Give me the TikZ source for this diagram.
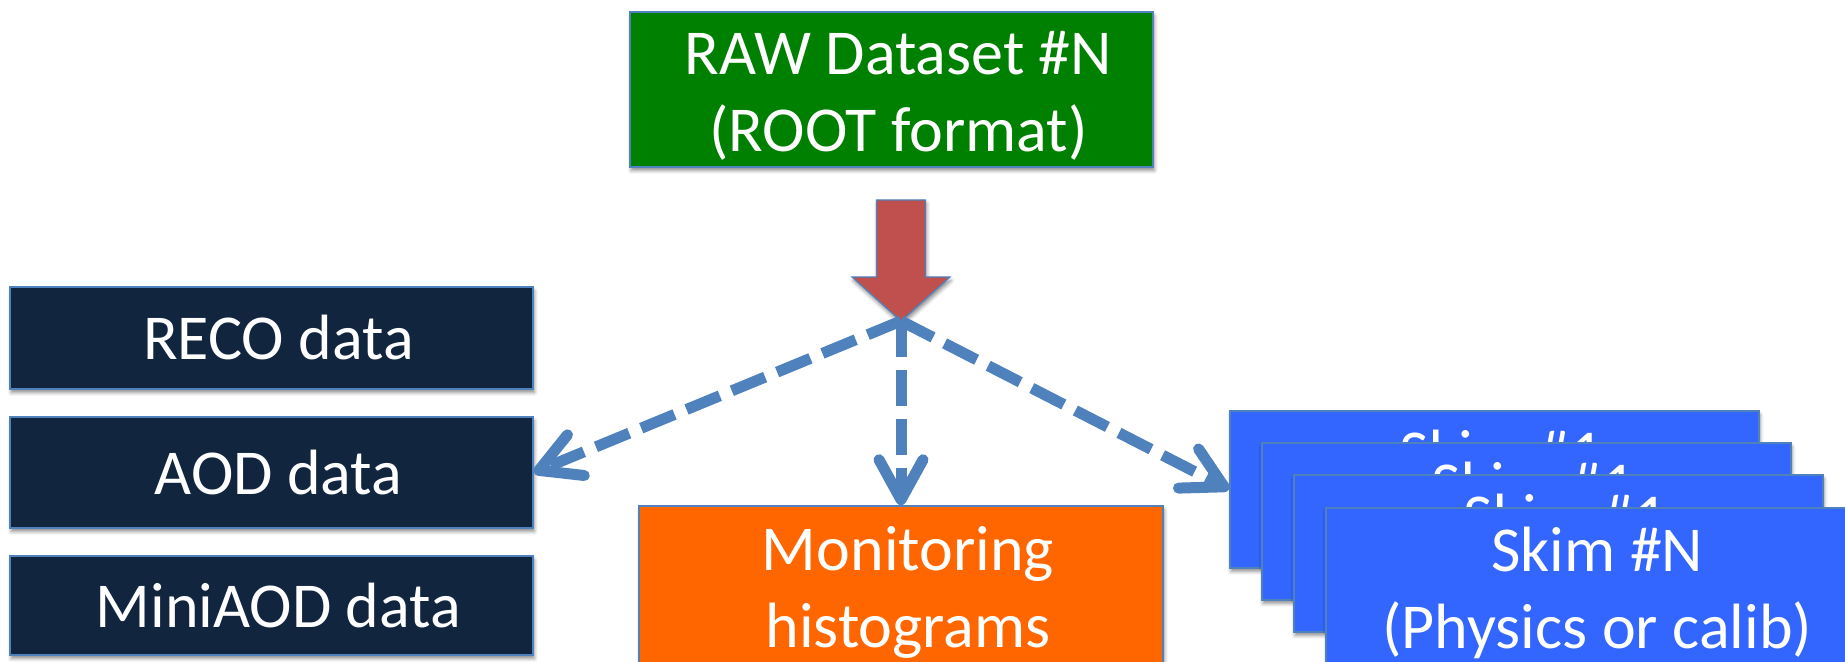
\documentclass[tikz,border=0pt]{standalone}
\usepackage{fontspec}
\setmainfont{Carlito}
\usetikzlibrary{arrows.meta,shadows.blur}
\definecolor{rawgreen}{HTML}{008000}
\definecolor{navybox}{HTML}{12253F}
\definecolor{monorange}{HTML}{FF6600}
\definecolor{skimblue}{HTML}{3366FF}
\definecolor{flowred}{HTML}{C0504D}
\definecolor{edgeblue}{HTML}{4F81BD}
% small left indent so each label sits a little right of the box centre
\newcommand{\lpad}{\hspace*{7pt}}

\begin{document}
\begin{tikzpicture}[x=0.5pt,y=-0.5pt,
  softshadow/.style={blur shadow={shadow xshift=0.6pt, shadow yshift=-1.8pt,
      shadow blur radius=1.8pt, shadow opacity=45}},
  box/.style={draw=edgeblue, line width=0.8pt, inner sep=0pt, text=white,
      align=center, font=\fontsize{32pt}{38.5pt}\selectfont, softshadow},
  % two-line labels: last baseline sits 62.5pt below the box centre
  twoline/.style={text height=62.5pt, text depth=0pt},
  databox/.style={box, fill=navybox, minimum width=261.5pt},
  skimbox/.style={box, twoline, fill=skimblue, anchor=north west,
      minimum width=264.5pt, minimum height=78.5pt},
  flow/.style={draw=edgeblue, line width=5.5pt, dash pattern=on 18pt off 6.5pt,
      -{Straight Barb[length=20pt, width=22pt, round]}},
]
\useasboundingbox (0,0) rectangle (1845,662);

% source dataset
\node[box, twoline, fill=rawgreen, minimum width=261.5pt, minimum height=77.5pt]
  (raw) at (891.5,89.5) {\lpad RAW Dataset \#N\\\lpad(ROOT format)};

% derived data tiers
\node[databox, minimum height=51pt]   (reco) at (271.5,338)   {\lpad RECO data};
\node[databox, minimum height=55.5pt] (aod)  at (271.5,472.5) {\lpad AOD data};
\node[databox, minimum height=49.5pt] (mini) at (271.5,605.5) {\lpad MiniAOD data};

% monitoring output
\node[box, twoline, fill=monorange, minimum width=262pt, minimum height=79pt]
  (mon) at (901,585) {\lpad Monitoring\\\lpad histograms};

% stack of skims
\node[skimbox] (skim1) at (1229,410) {\lpad Skim \#1\\\phantom{(Physics or calib)}};
\node[skimbox] (skim2) at (1261,442) {\lpad Skim \#1\\\phantom{(Physics or calib)}};
\node[skimbox] (skim3) at (1293,474) {\lpad Skim \#1\\\phantom{(Physics or calib)}};
\node[skimbox] (skimN) at (1325,507) {\lpad Skim \#N\\\lpad(Physics or calib)};

% processing step: block arrow down to the branching point
\coordinate (hub) at (901,321);
\draw[draw=edgeblue, line width=0.6pt, fill=flowred, line join=miter, softshadow]
  (876.5,200) -- (925.5,200) -- (925.5,277) -- (950,277) -- (hub)
  -- (852,277) -- (876.5,277) -- cycle;

% outputs of the processing
\draw[flow] (hub) -- (aod.east);
\draw[flow] (hub) -- (mon.north);
\draw[flow] (hub) -- (skim1.west);
\end{tikzpicture}
\end{document}
